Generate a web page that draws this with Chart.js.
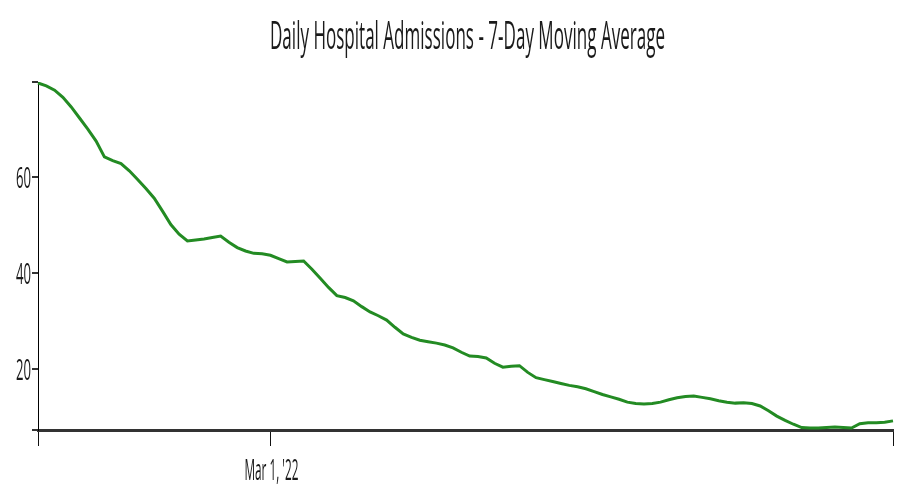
<!DOCTYPE html>
<html lang="en">
<head>
    <meta charset="UTF-8">
    <title>Daily Hospital Admissions</title>
    <script src="https://cdn.jsdelivr.net/npm/chart.js"></script>
    <style>
        body {
            margin: 0;
            background-color: #fff;
        }
        #chart {
            display: block;
        }
    </style>
</head>
<body>
    <canvas id="chart" width="915" height="497"></canvas>

    <script>
        // data, one value per day starting Feb 1 2022
        const startDate = new Date(2022, 1, 1);
        const admissions = [
            79.6, 79.0, 78.1, 76.6, 74.6, 72.3, 70.0, 67.5, 64.2, 63.4,
            62.8, 61.3, 59.5, 57.6, 55.6, 52.9, 50.1, 48.1, 46.7, 46.9,
            47.1, 47.4, 47.7, 46.4, 45.3, 44.6, 44.1, 44.0, 43.7, 43.0,
            42.3, 42.4, 42.5, 40.8, 38.9, 37.0, 35.3, 34.9, 34.2, 33.0,
            31.9, 31.1, 30.2, 28.7, 27.3, 26.6, 26.0, 25.7, 25.4, 25.0,
            24.4, 23.5, 22.7, 22.6, 22.3, 21.2, 20.4, 20.6, 20.7, 19.3,
            18.2, 17.8, 17.4, 17.0, 16.6, 16.3, 15.9, 15.3, 14.7, 14.2,
            13.7, 13.1, 12.8, 12.7, 12.8, 13.1, 13.6, 14.0, 14.3, 14.4,
            14.1, 13.8, 13.4, 13.1, 12.9, 13.0, 12.8, 12.3, 11.3, 10.2,
            9.3, 8.5, 7.8, 7.7, 7.7, 7.8, 7.9, 7.8, 7.7, 8.6,
            8.8, 8.8, 8.9, 9.2
        ];
        const yTickValues = [20, 40, 60];
        const yMin = 7.3;
        const yMax = 79.8;
        const xTickIndex = [0, 28, 103];
        const xTickText = ['', "Mar 1, '22", ''];
        const titleText = 'Daily Hospital Admissions - 7-Day Moving Average';

        const months = ['Jan', 'Feb', 'Mar', 'Apr', 'May', 'Jun'];
        const dates = admissions.map((v, i) => {
            const d = new Date(startDate);
            d.setDate(d.getDate() + i);
            return months[d.getMonth()] + ' ' + d.getDate() + ", '22";
        });

        // condensed text: Open Sans squeezed sideways
        function drawSqueezed(ctx, text, x, y, size, width, align) {
            ctx.save();
            ctx.font = size + "px 'Open Sans'";
            const w = ctx.measureText(text).width;
            const s = width / w;
            let left = x;
            if (align === 'center') left = x - width / 2;
            if (align === 'right') left = x - width;
            ctx.translate(left, y);
            ctx.scale(s, 1);
            ctx.textAlign = 'left';
            ctx.textBaseline = 'alphabetic';
            ctx.fillText(text, 0, 0);
            ctx.restore();
        }

        const textPlugin = {
            id: 'squeezedText',
            afterDraw(chart) {
                const ctx = chart.ctx;
                const area = chart.chartArea;
                ctx.fillStyle = '#1a1a1a';
                drawSqueezed(ctx, titleText, (area.left + area.right) / 2 + 2, 49, 38, 395, 'center');

                const y = chart.scales.y;
                yTickValues.forEach(v => {
                    drawSqueezed(ctx, String(v), 31, y.getPixelForValue(v) + 11, 30, 15, 'right');
                });

                const x = chart.scales.x;
                xTickIndex.forEach((idx, i) => {
                    if (xTickText[i]) {
                        drawSqueezed(ctx, xTickText[i], x.getPixelForValue(idx) + 1, 480, 30, 54, 'center');
                    }
                });
            }
        };

        new Chart(document.getElementById('chart').getContext('2d'), {
            type: 'line',
            data: {
                labels: dates,
                datasets: [{
                    label: '7-Day Moving Average',
                    data: admissions,
                    borderColor: '#238b23',
                    borderWidth: 3,
                    pointRadius: 0,
                    tension: 0,
                    fill: false
                }]
            },
            options: {
                responsive: false,
                animation: false,
                layout: { padding: { top: 82, right: 22, left: 0, bottom: 0 } },
                plugins: {
                    legend: { display: false },
                    title: { display: false },
                    tooltip: { enabled: false }
                },
                scales: {
                    x: {
                        type: 'category',
                        offset: false,
                        afterBuildTicks: scale => {
                            scale.ticks = xTickIndex.map(v => ({ value: v }));
                        },
                        afterFit: scale => { scale.height = 67; },
                        ticks: { display: false, autoSkip: false },
                        grid: {
                            drawOnChartArea: false,
                            drawTicks: true,
                            tickLength: 16,
                            color: '#111',
                            lineWidth: 1
                        },
                        border: { display: true, color: '#333', width: 3 }
                    },
                    y: {
                        min: yMin,
                        max: yMax,
                        afterBuildTicks: scale => {
                            scale.ticks = [yMin].concat(yTickValues, [yMax]).map(v => ({ value: v }));
                        },
                        afterFit: scale => { scale.width = 38; },
                        ticks: { display: false },
                        grid: {
                            drawOnChartArea: false,
                            drawTicks: true,
                            tickLength: 6,
                            color: '#333',
                            lineWidth: 2
                        },
                        border: { display: true, color: '#000', width: 1 }
                    }
                }
            },
            plugins: [textPlugin]
        });
    </script>
</body>
</html>
